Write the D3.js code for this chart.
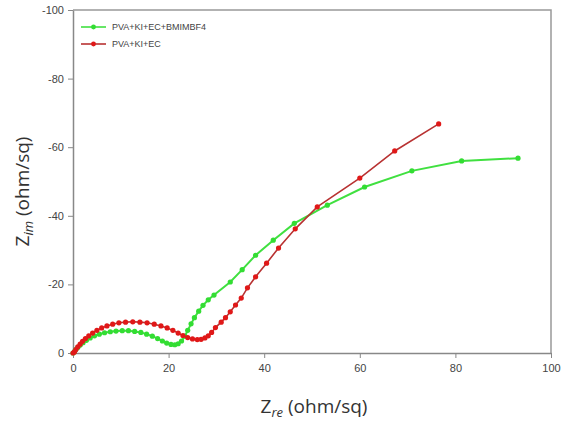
<!DOCTYPE html>
<html>
<head>
<meta charset="utf-8">
<script src="https://cdn.jsdelivr.net/npm/d3@7"></script>
<style>
  body { margin: 0; background: #fff; }
  .tick text { font-family: "Liberation Sans", Arial, sans-serif; font-size: 11px; fill: #444; }
  .axis path, .axis line { stroke: #888; }
</style>
</head>
<body>
<svg id="chart" width="572" height="426"></svg>
<script>
// series names
var seriesNames = ["PVA+KI+EC+BMIMBF4", "PVA+KI+EC"];

// Zre values (ohm/sq) for PVA+KI+EC+BMIMBF4
var greenRe = [0, 0.3, 0.6, 1.0, 1.5, 2.1, 2.8, 3.6, 4.5, 5.5, 6.6, 7.8, 9.0, 10.3, 11.6, 12.9, 14.2, 15.4, 16.6, 17.7, 18.7, 19.6, 20.5, 21.3, 22.0, 22.7, 23.4, 24.0, 24.7, 25.4, 26.3, 27.2, 28.3, 29.5, 32.9, 35.4, 38.2, 41.9, 46.3, 53.2, 61.0, 70.9, 81.3, 93.1];
// Zim values (ohm/sq) for PVA+KI+EC+BMIMBF4
var greenIm = [0, -0.4, -1.0, -1.6, -2.3, -3.0, -3.7, -4.4, -5.0, -5.5, -5.9, -6.2, -6.4, -6.5, -6.5, -6.3, -6.0, -5.5, -4.9, -4.2, -3.5, -2.9, -2.5, -2.4, -2.7, -3.5, -4.9, -6.6, -8.5, -10.3, -12.2, -13.9, -15.5, -16.9, -20.7, -24.3, -28.5, -32.9, -37.8, -43.1, -48.4, -53.1, -56.0, -56.8];

// Zre values (ohm/sq) for PVA+KI+EC
var redRe = [0, 0.3, 0.6, 1.0, 1.5, 2.0, 2.6, 3.3, 4.1, 5.0, 6.0, 7.1, 8.3, 9.6, 11.0, 12.5, 14.0, 15.5, 17.0, 18.4, 19.7, 20.9, 22.0, 23.0, 24.0, 25.0, 26.0, 26.8, 27.6, 28.3, 29.0, 29.8, 31.0, 31.9, 32.9, 34.0, 35.2, 36.5, 38.2, 40.5, 43.0, 46.5, 51.1, 60.0, 67.3, 76.5];
// Zim values (ohm/sq) for PVA+KI+EC
var redIm = [0, -0.3, -1.0, -1.8, -2.6, -3.4, -4.2, -5.0, -5.8, -6.6, -7.3, -7.9, -8.4, -8.8, -9.0, -9.1, -9.0, -8.8, -8.4, -7.9, -7.3, -6.6, -5.8, -5.1, -4.5, -4.1, -3.9, -4.0, -4.4, -5.0, -6.0, -7.4, -9.0, -10.3, -12.0, -14.0, -16.0, -19.0, -22.2, -26.2, -30.6, -36.2, -42.6, -51.0, -58.9, -66.8];

var xTicks = [0, 20, 40, 60, 80, 100];
var yTicks = [0, -20, -40, -60, -80, -100];

var svg = d3.select("#chart"),
    margin = {top: 10, right: 21, bottom: 73, left: 73},
    width = +svg.attr("width") - margin.left - margin.right,
    height = +svg.attr("height") - margin.top - margin.bottom,
    g = svg.append("g").attr("transform", "translate(" + margin.left + "," + margin.top + ")");

var x = d3.scaleLinear().domain([0, 100]).range([0, width]),
    y = d3.scaleLinear().domain([0, -100]).range([height, 0]);

// plain hyphen for negatives, like the original
var fmt = function(d) { return String(d); };

// frame top / right
g.append("path")
    .attr("d", "M0,0H" + width + "V" + height)
    .attr("fill", "none")
    .attr("stroke", "#999")
    .attr("stroke-width", 1.5);

g.append("g")
    .attr("class", "axis")
    .attr("transform", "translate(0," + height + ")")
    .call(d3.axisBottom(x).tickValues(xTicks).tickFormat(fmt).tickSize(5).tickSizeOuter(0).tickPadding(6))
    .call(function(a) { a.select(".domain").attr("stroke-width", 1.5); });

g.append("g")
    .attr("class", "axis")
    .call(d3.axisLeft(y).tickValues(yTicks).tickFormat(fmt).tickSize(5).tickSizeOuter(0).tickPadding(4))
    .call(function(a) { a.select(".domain").attr("stroke-width", 1.5); });

var series = [
  {name: seriesNames[0], re: greenRe, im: greenIm, line: "#40e040", dot: "#33dd33", w: 2},
  {name: seriesNames[1], re: redRe, im: redIm, line: "#b83232", dot: "#e01818", w: 1.6}
];

var line = d3.line()
    .x(function(d) { return x(d[0]); })
    .y(function(d) { return y(d[1]); });

series.forEach(function(s) {
  var pts = s.re.map(function(v, i) { return [v, s.im[i]]; });
  g.append("path")
      .attr("d", line(pts))
      .attr("fill", "none")
      .attr("stroke", s.line)
      .attr("stroke-width", s.w);
  g.selectAll(null)
      .data(pts)
      .enter().append("circle")
      .attr("cx", function(d) { return x(d[0]); })
      .attr("cy", function(d) { return y(d[1]); })
      .attr("r", 2.6)
      .attr("fill", s.dot);
});

// legend
var legend = g.append("g").attr("transform", "translate(8,17)");
series.forEach(function(s, i) {
  var row = legend.append("g").attr("transform", "translate(0," + (i * 17) + ")");
  row.append("line").attr("x1", 0).attr("x2", 25).attr("y1", 0).attr("y2", 0)
      .attr("stroke", s.line).attr("stroke-width", 1.6);
  row.append("circle").attr("cx", 12.5).attr("cy", 0).attr("r", 2.4).attr("fill", s.dot);
  row.append("text").attr("x", 31).attr("y", 0).attr("dy", "0.35em")
      .style("font", "9px 'Liberation Sans', Arial, sans-serif")
      .attr("fill", "#444")
      .text(s.name);
});

// axis titles
var xt = svg.append("text")
    .attr("x", margin.left + width / 2 + 2)
    .attr("y", 413)
    .attr("text-anchor", "middle")
    .attr("fill", "#333")
    .style("font-family", "'Open Sans', 'Noto Sans', sans-serif")
    .style("font-size", "19px");
xt.append("tspan").text("Z");
xt.append("tspan").attr("dy", 4).style("font-size", "13px").style("font-style", "italic").text("re");
xt.append("tspan").attr("dy", -4).text(" (ohm/sq)");

var yt = svg.append("text")
    .attr("transform", "translate(29," + (margin.top + height / 2 + 10) + ") rotate(-90)")
    .attr("text-anchor", "middle")
    .attr("fill", "#333")
    .style("font-family", "'Open Sans', 'Noto Sans', sans-serif")
    .style("font-size", "19px");
yt.append("tspan").text("Z");
yt.append("tspan").attr("dy", 4).style("font-size", "13px").style("font-style", "italic").text("im");
yt.append("tspan").attr("dy", -4).text(" (ohm/sq)");
</script>
</body>
</html>
